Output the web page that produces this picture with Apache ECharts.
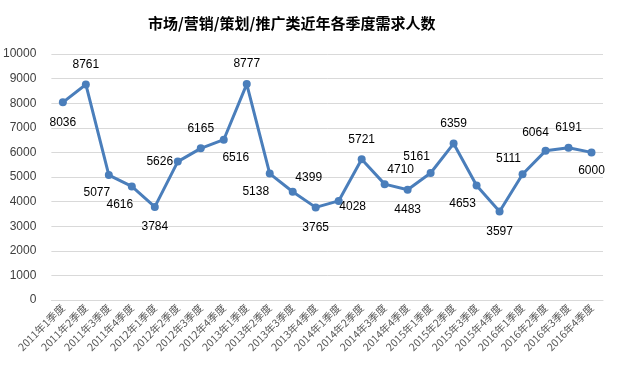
<!DOCTYPE html>
<html>
<head>
<meta charset="utf-8">
<script src="https://cdn.jsdelivr.net/npm/echarts@6/dist/echarts.min.js"></script>
<style>
  html, body { margin: 0; padding: 0; background: #fff; }
  #chart { width: 617px; height: 378px; }
</style>
</head>
<body>
<div id="chart"></div>
<script>
// 季度
var quarters = [
  '2011年1季度', '2011年2季度', '2011年3季度', '2011年4季度',
  '2012年1季度', '2012年2季度', '2012年3季度', '2012年4季度',
  '2013年1季度', '2013年2季度', '2013年3季度', '2013年4季度',
  '2014年1季度', '2014年2季度', '2014年3季度', '2014年4季度',
  '2015年1季度', '2015年2季度', '2015年3季度', '2015年4季度',
  '2016年1季度', '2016年2季度', '2016年3季度', '2016年4季度'
];
// 需求人数
var demand = [
  8036, 8761, 5077, 4616,
  3784, 5626, 6165, 6516,
  8777, 5138, 4399, 3765,
  4028, 5721, 4710, 4483,
  5161, 6359, 4653, 3597,
  5111, 6064, 6191, 6000
];
var yTicks = [0, 1000, 2000, 3000, 4000, 5000, 6000, 7000, 8000, 9000, 10000];

// 数据标签摆放 (类似 excel 的自动布局)
var labelPlace = [
  [0, 20], [0, -20], [-12, 18], [-12, 18],
  [0, 20], [-18, 0], [0, -20], [12, 18],
  [0, -20], [-14, 18], [16, -14], [0, 20],
  [14, 6], [0, -20], [16, -14], [0, 20],
  [-14, -16], [0, -20], [-14, 18], [0, 20],
  [-14, -16], [-10, -18], [0, -20], [0, 18]
];

var chart = echarts.init(document.getElementById('chart'));

var points = demand.map(function (v, i) {
  return {
    value: v,
    label: { offset: labelPlace[i] }
  };
});

chart.setOption({
  animation: false,
  title: {
    text: '市场/营销/策划/推广类近年各季度需求人数',
    left: 143,
    top: 11,
    textStyle: {
      fontFamily: 'Noto Sans CJK SC',
      fontSize: 15,
      fontWeight: 'bold',
      color: '#000'
    }
  },
  grid: { left: 48, right: 14, top: 54, bottom: 78 },
  xAxis: {
    type: 'category',
    data: quarters,
    boundaryGap: true,
    axisLine: { show: true, lineStyle: { color: '#d9d9d9' } },
    axisTick: { show: false },
    axisLabel: {
      interval: 0,
      rotate: 45,
      margin: 6,
      color: '#595959',
      fontFamily: 'Noto Sans CJK SC',
      fontSize: 10.5
    }
  },
  yAxis: {
    type: 'value',
    min: yTicks[0],
    max: yTicks[yTicks.length - 1],
    interval: 1000,
    axisLine: { show: false },
    axisTick: { show: false },
    axisLabel: {
      color: '#404040',
      margin: 15,
      fontFamily: 'Liberation Sans',
      fontSize: 12,
      formatter: function (v) { return String(v); }
    },
    splitLine: { lineStyle: { color: '#d9d9d9' } }
  },
  series: [{
    type: 'line',
    data: points,
    symbol: 'circle',
    symbolSize: 8,
    lineStyle: { color: '#4a7ebb', width: 3 },
    itemStyle: { color: '#4a7ebb' },
    label: {
      show: true,
      position: 'inside',
      color: '#000',
      fontFamily: 'Liberation Sans',
      fontSize: 12
    }
  }]
});
</script>
</body>
</html>
